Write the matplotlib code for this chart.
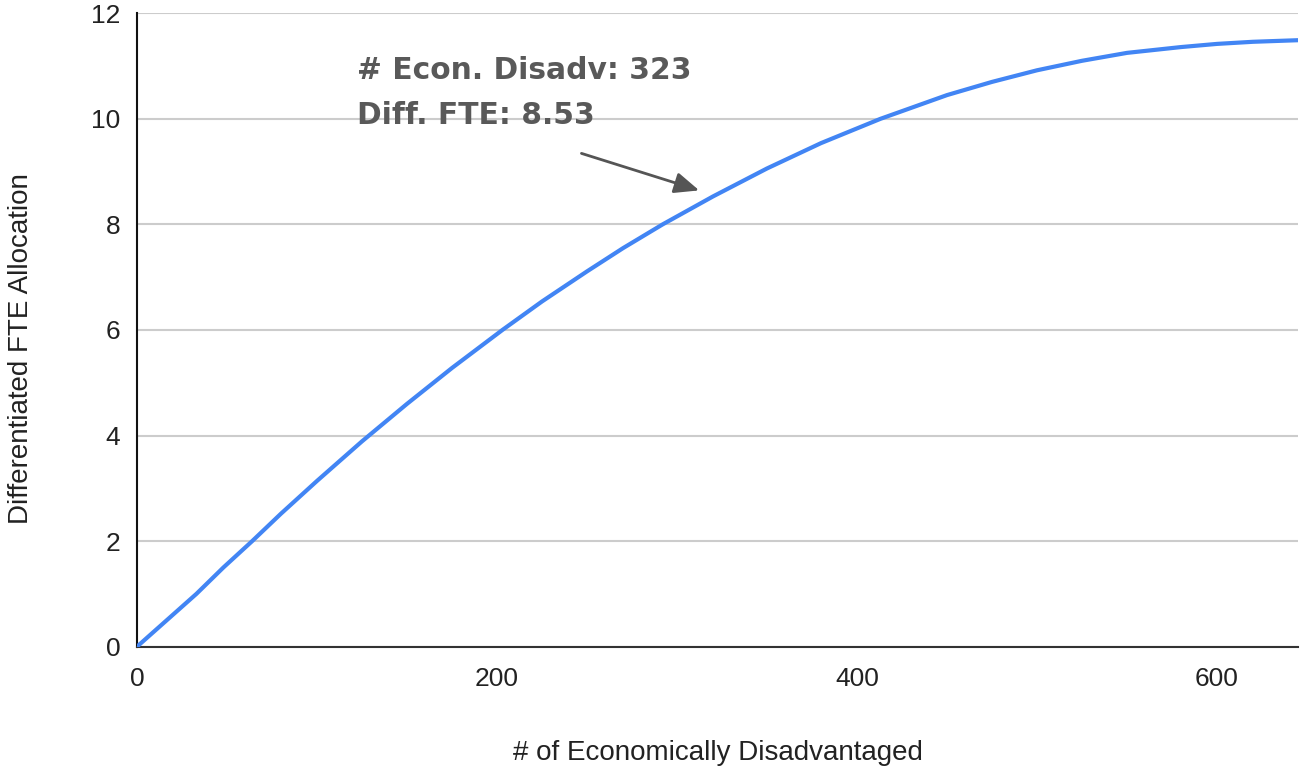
import matplotlib
matplotlib.use("Agg")
import matplotlib.pyplot as plt

# values
econ_disadv = [0, 33, 48, 64, 80, 100, 125, 150, 175, 203, 225, 250, 270, 292, 320,
               350, 380, 413, 450, 475, 500, 525, 550, 580, 600, 620, 645]
diff_fte = [0.0, 1.0, 1.5, 2.0, 2.52, 3.14, 3.89, 4.6, 5.28, 6.0, 6.54, 7.11, 7.55, 8.0, 8.53,
            9.06, 9.54, 10.0, 10.45, 10.7, 10.92, 11.1, 11.25, 11.36, 11.42, 11.46, 11.49]

x_ticks = [0, 200, 400, 600]
y_ticks = [0, 2, 4, 6, 8, 10, 12]

callout_x = 323
callout_y = 8.53
callout_text = "# Econ. Disadv: %d\nDiff. FTE: %.2f" % (callout_x, callout_y)

plt.rcParams['font.family'] = ['Liberation Sans', 'DejaVu Sans']

fig = plt.figure(figsize=(13.01, 7.68), dpi=100)
ax = fig.add_axes([0.1053, 0.158, 0.8924, 0.8247])

ax.plot(econ_disadv, diff_fte, color='#4285F4', lw=3, solid_capstyle='round',
        solid_joinstyle='round', zorder=3)

ax.set_xlim(0, 645)
ax.set_ylim(0, 12)
ax.set_xticks(x_ticks)
ax.set_yticks(y_ticks)
ax.tick_params(axis='both', length=0, labelsize=19, colors='#222222')
ax.tick_params(axis='x', pad=15)
ax.tick_params(axis='y', pad=12)
ax.grid(axis='y', color='#cccccc', lw=1.5)
ax.set_axisbelow(True)

for s in ['top', 'right']:
    ax.spines[s].set_visible(False)
ax.spines['left'].set_color('#111111')
ax.spines['left'].set_linewidth(1.5)
ax.spines['bottom'].set_color('#333333')
ax.spines['bottom'].set_linewidth(1.5)

ax.set_xlabel('# of Economically Disadvantaged', fontsize=20, color='#222222', labelpad=35)
ax.set_ylabel('Differentiated FTE Allocation', fontsize=20, color='#222222', labelpad=41)
ax.yaxis.label.set_y(0.47)

# arrow pointing at the callout point
ax.annotate('', xy=(callout_x, callout_y), xytext=(-98.6, 31), textcoords='offset points',
            arrowprops=dict(arrowstyle='-|>,head_length=0.75,head_width=0.32', mutation_scale=20,
                            color='#555555', lw=2, shrinkA=0, shrinkB=14.5))

ax.text(122, 11.19, callout_text, fontsize=21.4, fontweight='bold', color='#595959',
        family=['DejaVu Sans'], va='top', ha='left', linespacing=1.68)

plt.savefig('out.png', dpi=100)
